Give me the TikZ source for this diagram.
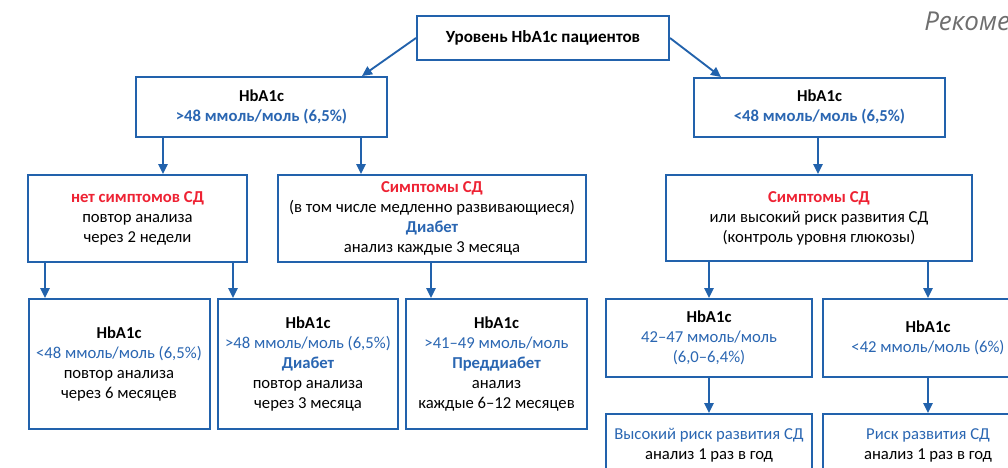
\documentclass[tikz,border=0pt]{standalone}
\usepackage{fontspec}
\setmainfont{Carlito}
\newfontfamily\recfont{Open Sans}
\usetikzlibrary{arrows.meta,calc}
\definecolor{bblue}{HTML}{2262AC}
\definecolor{tblue}{HTML}{2A66B2}
\definecolor{tred}{HTML}{EE2233}
\definecolor{rgray}{HTML}{6E6E6E}
\tikzset{
  box/.style={draw=bblue, line width=1.5pt, inner sep=0pt, text=black,
    font=\fontsize{12.5}{15}\selectfont},
  arr/.style={draw=bblue, line width=1.4pt, -{Triangle[length=7.5pt,width=7pt]}},
}
\newcommand{\bl}[1]{\textcolor{tblue}{#1}}
\newcommand{\rd}[1]{\textcolor{tred}{#1}}
\newcommand{\tb}[1]{\begin{tabular}{@{}c@{}}#1\end{tabular}}
\begin{document}
\begin{tikzpicture}[x=0.75pt,y=-0.75pt]
\useasboundingbox (0,0) rectangle (1008,468);
\clip (0,0) rectangle (1008,468);
\fill[white] (0,0) rectangle (1008,468);

\node[box, font=\fontsize{12.8}{15}\selectfont, minimum width=189pt, minimum height=33pt] (top) at (543,38)
  {\tb{\textbf{Уровень HbA1c пациентов}}};
\node[box, minimum width=188.25pt, minimum height=45pt] (L1) at (261.5,107)
  {\tb{\textbf{HbA1c}\\\bl{\textbf{>48 ммоль/моль (6,5\%)}}}};
\node[box, minimum width=188.25pt, minimum height=44.25pt] (R1) at (819.5,107.5)
  {\tb{\textbf{HbA1c}\\\bl{\textbf{<48 ммоль/моль (6,5\%)}}}};

\node[box, minimum width=164.25pt, minimum height=65.25pt] (A) at (137.5,218.5)
  {\tb{\rd{\textbf{нет симптомов СД}}\\повтор анализа\\через 2 недели}};
\node[box, minimum width=231pt, minimum height=65.25pt] (B) at (432,218.5)
  {\tb{\rd{\textbf{Симптомы СД}}\\(в том числе медленно развивающиеся)\\\bl{\textbf{Диабет}}\\анализ каждые 3 месяца}};
\node[box, minimum width=229.5pt, minimum height=64.5pt] (C) at (819,218)
  {\tb{\rd{\textbf{Симптомы СД}}\\или высокий риск развития СД\\(контроль уровня глюкозы)}};

\node[box, minimum width=135.75pt, minimum height=97.5pt] (D1) at (119,364)
  {\tb{\textbf{HbA1c}\\\bl{<48 ммоль/моль (6,5\%)}\\повтор анализа\\через 6 месяцев}};
\node[box, minimum width=135pt, minimum height=97.5pt] (D2) at (308,364)
  {\tb{\textbf{HbA1c}\\\bl{>48 ммоль/моль (6,5\%)}\\\bl{\textbf{Диабет}}\\повтор анализа\\через 3 месяца}};
\node[box, minimum width=135.4pt, minimum height=97.5pt] (D3) at (496.5,364)
  {\tb{\textbf{HbA1c}\\\bl{>41–49 ммоль/моль}\\\bl{\textbf{Преддиабет}}\\анализ\\каждые 6–12 месяцев}};

\node[box, minimum width=154.5pt, minimum height=58.5pt] (E1) at (709,338)
  {\tb{\textbf{HbA1c}\\\bl{42–47 ммоль/моль}\\\bl{(6,0–6,4\%)}}};
\node[box, minimum width=157.5pt, minimum height=58.5pt] (E2) at (928,338)
  {\tb{\textbf{HbA1c}\\\bl{<42 ммоль/моль (6\%)}}};

\node[box, minimum width=154.5pt, minimum height=46.5pt] (F1) at (709,445)
  {\tb{\bl{Высокий риск развития СД}\\анализ 1 раз в год}};
\node[box, minimum width=157.5pt, minimum height=46.5pt] (F2) at (928,445)
  {\tb{\bl{Риск развития СД}\\анализ 1 раз в год}};

\node[anchor=base west, inner sep=0pt, text=rgray, font=\recfont\itshape\fontsize{19.5}{22}\selectfont] (rec) at (924,30) {Рекоме};

% x positions of connectors
\coordinate (xa) at (362,0);
\coordinate (xb) at (721,0);
\coordinate (x1) at (163,0);
\coordinate (x2) at (361,0);
\coordinate (x3) at (818,0);
\coordinate (x4) at (45,0);
\coordinate (x5) at (233,0);
\coordinate (x6) at (431,0);
\coordinate (x7) at (709,0);
\coordinate (x8) at (928,0);

\draw[arr] (top.west) -- (L1.north -| xa);
\draw[arr] (top.east) -- (R1.north -| xb);
\draw[arr] (L1.south -| x1) -- (A.north -| x1);
\draw[arr] (L1.south -| x2) -- (B.north -| x2);
\draw[arr] (R1.south -| x3) -- (C.north -| x3);
\draw[arr] (A.south -| x4) -- (D1.north -| x4);
\draw[arr] (A.south -| x5) -- (D2.north -| x5);
\draw[arr] (B.south -| x6) -- (D3.north -| x6);
\draw[arr] (C.south -| x7) -- (E1.north -| x7);
\draw[arr] (C.south -| x8) -- (E2.north -| x8);
\draw[arr] (E1.south) -- (F1.north);
\draw[arr] (E2.south) -- (F2.north);
\end{tikzpicture}
\end{document}
